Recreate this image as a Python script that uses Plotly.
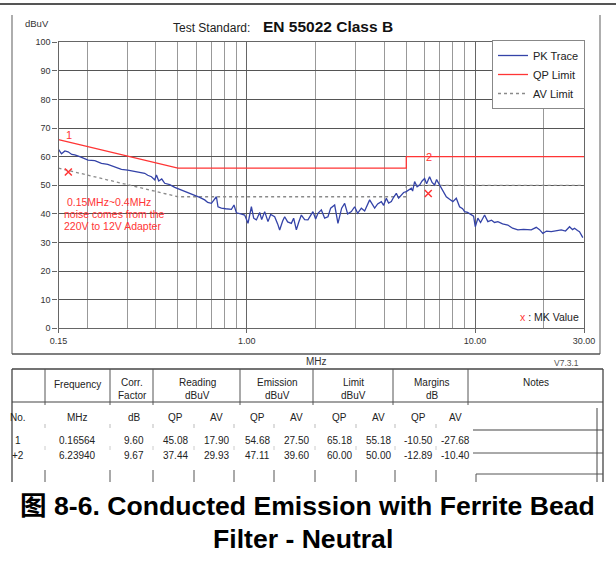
import math
import plotly.graph_objects as go

W, H = 616, 564
FONT = "Liberation Sans, Arial, Noto Sans CJK SC, sans-serif"

# ---------------- data ----------------
pk_freq = [0.150, 0.1546, 0.160, 0.1652, 0.1715, 0.1768, 0.1859, 0.2021, 0.2163, 0.2313,
           0.2465, 0.2645, 0.2829, 0.3015, 0.3236, 0.3402, 0.3578, 0.3688, 0.3829, 0.3958,
           0.4027, 0.4121, 0.4248, 0.4378, 0.4605, 0.4843, 0.5181, 0.5410, 0.5632, 0.5924,
           0.6227, 0.6551, 0.6752, 0.7008, 0.7173, 0.7371, 0.7490, 0.7750, 0.8096, 0.8575,
           0.8801, 0.9018, 0.9417, 0.9804, 1.0137, 1.0488, 1.0735, 1.1031, 1.1405, 1.1636,
           1.1992, 1.2398, 1.2739, 1.3262, 1.3668, 1.3948, 1.4375, 1.4669, 1.5118, 1.5692,
           1.6061, 1.6503, 1.6888, 1.7357, 1.7947, 1.8552, 1.9067, 1.9511, 2.005, 2.0521,
           2.1237, 2.1953, 2.2699, 2.3323, 2.4285, 2.5104, 2.6059, 2.6862, 2.7686, 2.8737,
           2.9706, 3.0616, 3.1780, 3.2858, 3.4557, 3.6345, 3.7459, 3.8881, 3.9786, 4.0882,
           4.1843, 4.2996, 4.4005, 4.5217, 4.6280, 4.7555, 4.8673, 5.0014, 5.1180, 5.2602,
           5.3298, 5.4375, 5.5757, 5.7186, 5.8641, 6.0144, 6.1361, 6.3241, 6.4863, 6.6514,
           6.7875, 7.1154, 7.2829, 7.4836, 7.7376, 7.9983, 8.2773, 8.5566, 8.8212, 9.0000,
           9.2757, 9.6276, 9.8545, 10.025, 10.29, 10.574, 11.01, 11.38, 11.81, 12.17,
           12.59, 13.20, 13.92, 14.60, 15.40, 16.31, 17.63, 18.54, 19.16, 19.81,
           20.57, 21.57, 22.52, 23.85, 24.90, 25.93, 26.73, 27.27, 28.10, 28.67, 29.65]
pk_level = [62.6, 61.0, 62.0, 61.7, 60.8, 60.6, 60.0, 58.8, 58.6, 57.7,
            57.3, 56.5, 55.6, 55.3, 54.8, 54.5, 54.2, 53.5, 53.0, 51.9,
            53.6, 51.5, 52.2, 50.7, 50.2, 49.3, 48.4, 47.9, 47.4, 46.6,
            45.8, 44.9, 44.0, 43.7, 44.8, 46.0, 42.5, 42.0, 41.8, 41.6,
            43.1, 40.4, 40.0, 39.6, 36.7, 42.5, 38.5, 37.9, 40.5, 38.0,
            40.8, 37.3, 39.8, 39.0, 36.5, 34.4, 37.5, 39.0, 37.2, 36.7,
            38.5, 34.4, 37.0, 39.6, 38.0, 37.9, 39.5, 40.8, 38.2, 40.2,
            41.4, 38.5, 39.0, 42.0, 43.1, 36.7, 42.0, 43.7, 40.0, 40.8,
            42.5, 40.2, 42.0, 41.0, 44.9, 42.0, 43.5, 44.3, 43.0, 45.5,
            43.8, 44.3, 45.8, 47.2, 45.5, 46.6, 47.5, 47.8, 48.3, 49.0,
            48.0, 51.3, 49.5, 50.1, 51.5, 52.4, 50.5, 53.0, 51.0, 50.1,
            52.0, 49.0, 48.0, 46.0, 45.1, 44.3, 45.5, 42.5, 41.8, 40.8,
            40.5, 39.6, 39.2, 35.5, 38.5, 37.0, 39.6, 37.3, 37.8, 37.0,
            37.3, 36.5, 36.1, 35.0, 34.4, 34.6, 34.4, 35.3, 34.5, 33.2,
            34.0, 33.8, 34.1, 34.4, 34.0, 35.5, 34.5, 35.0, 34.2, 33.8, 31.7]

qp_freq = [0.15, 0.5, 5.0, 5.0, 30.0]
qp_level = [66, 56, 56, 60, 60]
av_freq = [0.15, 0.5, 5.0, 5.0, 30.0]
av_level = [56, 46, 46, 50, 50]

x_tick_vals = [0.15, 1, 10, 30]
x_tick_text = ["0.15", "1.00", "10.00", "30.00"]
x_minor_vals = [0.2, 0.3, 0.4, 0.5, 0.6, 0.7, 0.8, 0.9,
                2, 3, 4, 5, 6, 7, 8, 9, 20]
y_tick_vals = [0, 10, 20, 30, 40, 50, 60, 70, 80, 90, 100]

# marker table
tbl_no = ["1", "+2"]
tbl_freq = ["0.16564", "6.23940"]
tbl_corr = ["9.60", "9.67"]
tbl_read_qp = ["45.08", "37.44"]
tbl_read_av = ["17.90", "29.93"]
tbl_emis_qp = ["54.68", "47.11"]
tbl_emis_av = ["27.50", "39.60"]
tbl_lim_qp = ["65.18", "60.00"]
tbl_lim_av = ["55.18", "50.00"]
tbl_marg_qp = ["-10.50", "-12.89"]
tbl_marg_av = ["-27.68", "-10.40"]

mk_labels = ["1", "2"]
mk_freq = [float(v) for v in tbl_freq]
mk_level = [float(v) for v in tbl_emis_qp]
mk_limit = [float(v) for v in tbl_lim_qp]

# ---------------- helpers ----------------
def px(x):
    return x / W

def py(y):
    return 1 - y / H

annotations = []
shapes = []

def ann(text, x, y, size, color="#222", xanchor="center", family=FONT, yanchor="middle"):
    annotations.append(dict(text=text, x=px(x), y=py(y), xref="paper", yref="paper",
                            xanchor=xanchor, yanchor=yanchor, showarrow=False,
                            font=dict(size=size, color=color, family=family)))

def line(x0, y0, x1, y1, color="#555", width=1):
    shapes.append(dict(type="line", xref="paper", yref="paper",
                       x0=px(x0), y0=py(y0), x1=px(x1), y1=py(y1),
                       line=dict(color=color, width=width)))

RED = "#ff3535"

# ---------------- figure ----------------
fig = go.Figure()

fig.add_trace(go.Scatter(x=av_freq, y=av_level, mode="lines", name="AV Limit",
                         line=dict(color="#8a8a8a", width=1.3, dash="dot"), legendrank=3))
fig.add_trace(go.Scatter(x=qp_freq, y=qp_level, mode="lines", name="QP Limit",
                         line=dict(color=RED, width=1.3), legendrank=2))
fig.add_trace(go.Scatter(x=pk_freq, y=pk_level, mode="lines", name="PK Trace",
                         line=dict(color="#3443a8", width=1.3), legendrank=1))
fig.add_trace(go.Scatter(x=mk_freq, y=mk_level, mode="markers", showlegend=False,
                         marker=dict(symbol="x-thin-open", size=7, color=RED,
                                     line=dict(color=RED, width=1.5))))

# marker number labels
for lab, f, lim, ys in zip(mk_labels, mk_freq, mk_limit, [7, 0]):
    annotations.append(dict(text=lab, x=math.log10(f), y=lim, xref="x", yref="y",
                            xshift=1, yshift=ys, showarrow=False,
                            font=dict(size=11, color=RED, family=FONT)))

# plot frame & titles
line(0, 4, W, 4, "#555", 2)
line(12, 15, 12, 354, "#777", 1.2)
line(600, 15, 600, 354, "#777", 1.2)
line(12, 354, 600, 354, "#555", 1.6)

ann("dBuV", 37, 24, 9.5, "#333")
ann("Test Standard:", 211, 28, 12, "#222")
ann("<b>EN 55022 Class B</b>", 328, 27, 15.5, "#111")
ann("MHz", 316, 361, 10, "#333")
ann("V7.3.1", 581, 363, 8.5, "#555", xanchor="right")
ann('<span style="color:#ff3535">x</span> : MK Value', 581, 317, 10.5, "#222", xanchor="right")

ann(" 0.15MHz~0.4MHz", 62, 202, 10.5, RED, xanchor="left")
ann("noise comes from the", 62, 214, 10.5, RED, xanchor="left")
ann("220V to 12V Adapter", 62, 225.5, 10.5, RED, xanchor="left")

# ---------------- table ----------------
TF = FONT
tc = "#222"
line(12, 369, 603, 369, "#444", 1.3)
line(12, 369, 12, 482, "#444", 1.3)
line(603, 369, 603, 482, "#444", 1.3)
line(12, 402, 603, 402, "#444", 1.2)
for xs in [45, 110, 153, 240, 313, 393, 468]:
    line(xs, 369, xs, 405, "#555", 1)
for xs in [45, 110, 153, 194, 234, 274, 315, 356, 395, 436]:
    line(xs, 424, xs, 428, "#bbb", 1)
    line(xs, 446, xs, 450, "#ccc", 1)
    line(xs, 470, xs, 482, "#555", 1)
line(473, 430, 603, 430, "#444", 1.2)
line(473, 453, 603, 453, "#555", 1)
line(597, 408, 597, 482, "#444", 1)
line(476, 474, 603, 474, "#555", 1)
line(476, 474, 476, 482, "#555", 1)

hs = 10
ann("Frequency", 78, 384, hs, tc, family=TF)
ann("Corr.", 132, 382, hs, tc, family=TF)
ann("Factor", 132, 395, hs, tc, family=TF)
ann("Reading", 197, 382, hs, tc, family=TF)
ann("dBuV", 197, 395, hs, tc, family=TF)
ann("Emission", 277, 382, hs, tc, family=TF)
ann("dBuV", 277, 395, hs, tc, family=TF)
ann("Limit", 353, 382, hs, tc, family=TF)
ann("dBuV", 353, 395, hs, tc, family=TF)
ann("Margins", 432, 382, hs, tc, family=TF)
ann("dB", 432, 395, hs, tc, family=TF)
ann("Notes", 536, 382, hs, tc, family=TF)

col_x = [18, 78, 134, 175, 216, 257, 296, 339, 378, 418, 455]
units = ["No.", "MHz", "dB", "QP", "AV", "QP", "AV", "QP", "AV", "QP", "AV"]
for cx, u in zip(col_x, units):
    ann(u, cx, 417, hs, tc, family=TF)

cols = [tbl_no, tbl_freq, tbl_corr, tbl_read_qp, tbl_read_av, tbl_emis_qp,
        tbl_emis_av, tbl_lim_qp, tbl_lim_av, tbl_marg_qp, tbl_marg_av]
for ri, ry in enumerate([440, 456]):
    for cx, col in zip(col_x, cols):
        ann(col[ri], cx, ry, hs, tc, family=TF)

# caption
ann("<b>图 8-6. Conducted Emission with Ferrite Bead</b>", 307.5, 506, 26.6, "#000")
ann("<b>Filter - Neutral</b>", 303, 539, 26.6, "#000")

fig.update_layout(
    width=W, height=H, autosize=False,
    margin=dict(l=0, r=0, t=0, b=0, pad=0, autoexpand=False),
    paper_bgcolor="white", plot_bgcolor="white",
    font=dict(family=FONT, color="#222"),
    showlegend=True,
    legend=dict(x=px(492), y=py(40), xanchor="left", yanchor="top",
                bgcolor="white", bordercolor="#888", borderwidth=1,
                font=dict(size=11, color="#222", family=FONT),
                tracegroupgap=0, itemwidth=30),
    xaxis=dict(type="log", domain=[px(58.5), px(584)],
               range=[math.log10(0.15), math.log10(30)],
               tickmode="array", tickvals=x_tick_vals, ticktext=x_tick_text,
               ticks="outside", ticklen=4, tickcolor="#666",
               tickfont=dict(size=9, color="#333"),
               showgrid=True, gridcolor="#666", gridwidth=1.2,
               minor=dict(tickvals=x_minor_vals, showgrid=True, gridcolor="#999",
                          gridwidth=1, ticks=""),
               showline=True, linecolor="#666", linewidth=1.2, mirror=True,
               zeroline=False, fixedrange=True, automargin=False),
    yaxis=dict(domain=[py(328.3), py(42.3)], range=[0, 100],
               tickmode="array", tickvals=y_tick_vals,
               ticks="outside", ticklen=5, tickcolor="#666",
               tickfont=dict(size=9, color="#333"),
               showgrid=True, gridcolor="#555", gridwidth=1.2,
               showline=True, linecolor="#666", linewidth=1.2, mirror=True,
               zeroline=False, fixedrange=True, automargin=False),
    annotations=annotations,
    shapes=shapes,
)

fig.write_html("out.html", config={"displayModeBar": False},
               post_script="document.body.style.margin='0';document.body.style.overflow='hidden';")
